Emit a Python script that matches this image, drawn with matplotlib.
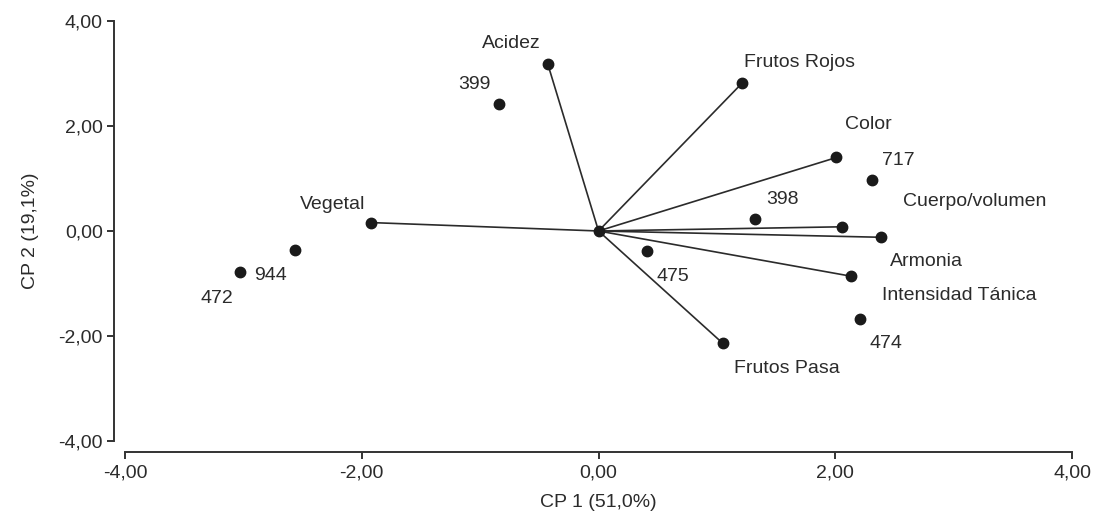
import matplotlib.pyplot as plt

plt.rcParams['font.family'] = ['Liberation Sans', 'DejaVu Sans']

# Variables (vectores desde el origen)
variables = ['Acidez', 'Frutos Rojos', 'Color', 'Cuerpo/volumen', 'Armonia',
             'Intensidad Tánica', 'Frutos Pasa', 'Vegetal']
var_x = [-0.43, 1.21, 2.01, 2.06, 2.39, 2.13, 1.05, -1.92]
var_y = [3.19, 2.81, 1.40, 0.08, -0.12, -0.86, -2.14, 0.16]
var_lx = [-0.74, 1.70, 2.28, 3.18, 2.77, 3.05, 1.59, -2.25]
var_ly = [3.58, 3.20, 2.02, 0.57, -0.58, -1.23, -2.62, 0.50]

# Muestras
muestras = ['399', '717', '398', '474', '475', '944', '472']
mue_x = [-0.84, 2.31, 1.32, 2.21, 0.41, -2.56, -3.03]
mue_y = [2.41, 0.97, 0.22, -1.68, -0.39, -0.36, -0.79]
mue_lx = [-1.05, 2.53, 1.55, 2.43, 0.63, -2.77, -3.22]
mue_ly = [2.79, 1.35, 0.60, -2.14, -0.87, -0.84, -1.28]

gris = '#2b2b2b'
fs = 14

fig = plt.figure(figsize=(10.93, 5.22), dpi=100)
ax = fig.add_axes([0.1144, 0.1552, 0.8664, 0.8046])

for x, y in zip(var_x, var_y):
    ax.plot([0, x], [0, y], color=gris, lw=1.2, zorder=2)
ax.plot(var_x, var_y, 'o', color='#1a1a1a', ms=7.5, zorder=3)
ax.plot([0], [0], 'o', color='#1a1a1a', ms=7.5, zorder=3)
ax.plot(mue_x, mue_y, 'o', color='#1a1a1a', ms=7.5, zorder=3)

for nombre, x, y in zip(variables, var_lx, var_ly):
    ax.text(x, y, nombre, ha='center', va='center', fontsize=fs, color=gris)
for nombre, x, y in zip(muestras, mue_lx, mue_ly):
    ax.text(x, y, nombre, ha='center', va='center', fontsize=fs, color=gris)

ax.set_xlim(-4, 4)
ax.set_ylim(-4, 4)
ticks = [-4, -2, 0, 2, 4]
ax.set_xticks(ticks)
ax.set_yticks(ticks)
ax.set_xticklabels([f'{t:.2f}'.replace('.', ',') for t in ticks])
ax.set_yticklabels([f'{t:.2f}'.replace('.', ',') for t in ticks])

for lado in ['top', 'right']:
    ax.spines[lado].set_visible(False)
for lado in ['left', 'bottom']:
    ax.spines[lado].set_position(('outward', 8))
    ax.spines[lado].set_linewidth(1.4)
    ax.spines[lado].set_color('#333333')
ax.tick_params(direction='out', length=5, width=1.4, color='#333333',
               labelsize=fs, labelcolor=gris, pad=3)
ax.tick_params(axis='x', pad=4)

ax.set_xlabel('CP 1 (51,0%)', fontsize=fs, color=gris, labelpad=9)
ax.set_ylabel('CP 2 (19,1%)', fontsize=fs, color=gris, labelpad=14)

fig.savefig('out.png', dpi=100)
